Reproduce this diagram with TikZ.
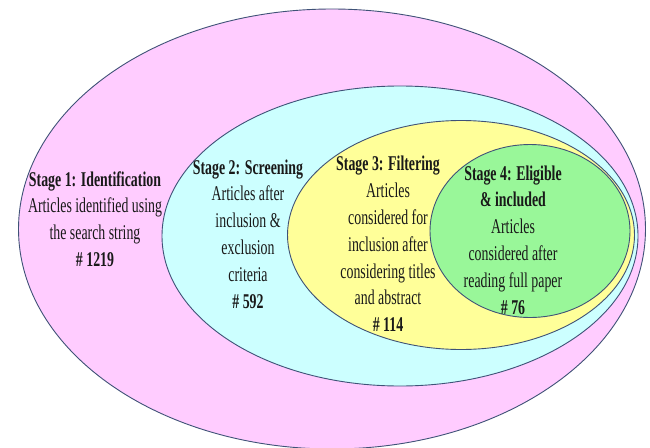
\documentclass[tikz,border=0pt]{standalone}
\usepackage{fontspec}
\setmainfont{Liberation Serif}[FakeStretch=0.66]
\usetikzlibrary{shapes.geometric}
\definecolor{pinkfill}{HTML}{FFCCFF}
\definecolor{cyanfill}{HTML}{CCFFFF}
\definecolor{yellowfill}{HTML}{FFFF99}
\definecolor{greenfill}{HTML}{99F799}
\definecolor{edgeblue}{HTML}{3F5277}
\tikzset{
  stage/.style={ellipse, draw=edgeblue, line width=0.9pt, inner sep=0pt},
  label/.style={align=center, inner sep=0pt, text=black!90, font=\fontsize{21}{26.8}\selectfont}
}
\begin{document}
\begin{tikzpicture}[x=1pt,y=-1pt]
\useasboundingbox (0,0) rectangle (650,447);
\clip (0,0) rectangle (650,447);
\fill[white] (0,0) rectangle (650,447);
\node[stage, fill=pinkfill, minimum width=627pt, minimum height=440pt] (e1) at (332,229) {};
\node[stage, fill=cyanfill, minimum width=476pt, minimum height=300pt] (e2) at (400,236) {};
\node[stage, fill=yellowfill, minimum width=347pt, minimum height=229pt] (e3) at (461,235) {};
\node[stage, fill=greenfill, minimum width=200pt, minimum height=173pt] (e4) at (530,231) {};
\node[label] (t1) at (95,219) {\textbf{Stage 1: Identification}\\Articles identified using\\the search string\\\textbf{\# 1219}};
\node[label] (t2) at (248,234) {\textbf{Stage 2: Screening}\\Articles after\\inclusion \&\\exclusion\\criteria\\\textbf{\# 592}};
\node[label] (t3) at (388,244) {\textbf{Stage 3: Filtering}\\Articles\\considered for\\inclusion after\\considering titles\\and abstract\\\textbf{\# 114}};
\node[label] (t4) at (513,240) {\textbf{Stage 4: Eligible}\\\textbf{\& included}\\Articles\\considered after\\reading full paper\\\textbf{\# 76}};
\end{tikzpicture}
\end{document}
